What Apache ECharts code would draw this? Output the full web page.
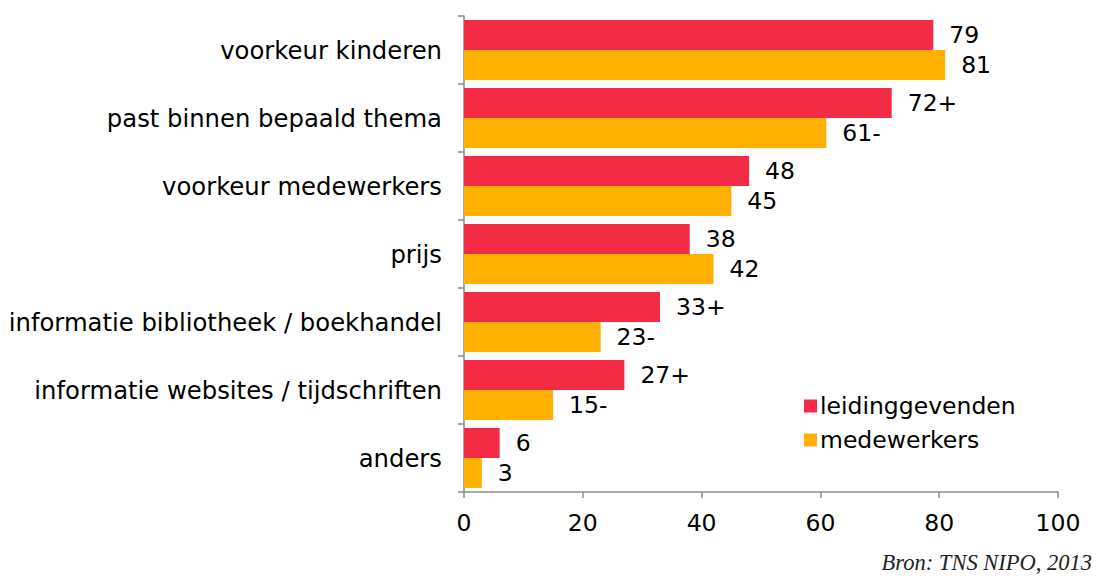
<!DOCTYPE html>
<html>
<head>
<meta charset="utf-8">
<script src="https://cdn.jsdelivr.net/npm/echarts@6/dist/echarts.min.js"></script>
<style>
    html, body { margin: 0; padding: 0; background: #fff; }
    #chart { width: 1096px; height: 576px; }
</style>
</head>
<body>
<div id="chart"></div>
<script>
// categorieen (van boven naar onder)
var categories = [
    "voorkeur kinderen",
    "past binnen bepaald thema",
    "voorkeur medewerkers",
    "prijs",
    "informatie bibliotheek / boekhandel",
    "informatie websites / tijdschriften",
    "anders"
];
var leidingValues = [79, 72, 48, 38, 33, 27, 6];
var leidingSuffix = ["", "+", "", "", "+", "+", ""];
var medewerkValues = [81, 61, 45, 42, 23, 15, 3];
var medewerkSuffix = ["", "-", "", "", "-", "-", ""];
var xTicks = [0, 20, 40, 60, 80, 100];

var sFont = "Verdana, 'DejaVu Sans', sans-serif";

function labelFmt(suffix) {
    return function (p) { return p.value + suffix[p.dataIndex]; };
}

var myChart = echarts.init(document.getElementById("chart"), null, { renderer: "svg" });
myChart.setOption({
    animation: false,
    grid: { left: 464, right: 38, top: 16, bottom: 84, containLabel: false },
    legend: {
        orient: "vertical",
        left: 799,
        top: 389,
        itemWidth: 13,
        itemHeight: 13,
        itemGap: 10,
        icon: "rect",
        textStyle: { fontFamily: sFont, fontSize: 23.5, color: "#000", padding: [0, 0, 0, -2] },
        data: ["leidinggevenden", "medewerkers"]
    },
    xAxis: {
        type: "value",
        min: xTicks[0],
        max: xTicks[xTicks.length - 1],
        interval: 20,
        axisLine: { show: true, lineStyle: { color: "#8c8c8c", width: 1.5 } },
        axisTick: { show: true, length: 6, lineStyle: { color: "#8c8c8c", width: 1.5 } },
        splitLine: { show: false },
        axisLabel: { fontFamily: sFont, fontSize: 23.5, color: "#000", margin: 19 }
    },
    yAxis: {
        type: "category",
        inverse: true,
        data: categories,
        axisLine: { show: true, lineStyle: { color: "#8c8c8c", width: 1.5 } },
        axisTick: { show: true, length: 6, lineStyle: { color: "#8c8c8c", width: 1.5 } },
        axisLabel: { fontFamily: sFont, fontSize: 24.3, color: "#000", margin: 22 }
    },
    series: [{
        name: "leidinggevenden",
        type: "bar",
        data: leidingValues,
        barGap: "0%",
        barCategoryGap: "12%",
        itemStyle: { color: "#F32B45" },
        label: {
            show: true, position: "right", distance: 16,
            fontFamily: sFont, fontSize: 23.5, color: "#000",
            formatter: labelFmt(leidingSuffix)
        }
    }, {
        name: "medewerkers",
        type: "bar",
        data: medewerkValues,
        barGap: "0%",
        barCategoryGap: "12%",
        itemStyle: { color: "#FFB000" },
        label: {
            show: true, position: "right", distance: 16,
            fontFamily: sFont, fontSize: 23.5, color: "#000",
            formatter: labelFmt(medewerkSuffix)
        }
    }],
    graphic: [{
        type: "text",
        right: 4,
        top: 551,
        style: {
            text: "Bron: TNS NIPO, 2013",
            font: "italic 22.5px 'Liberation Serif', 'Times New Roman', serif",
            fill: "#222"
        }
    }]
});
</script>
</body>
</html>
